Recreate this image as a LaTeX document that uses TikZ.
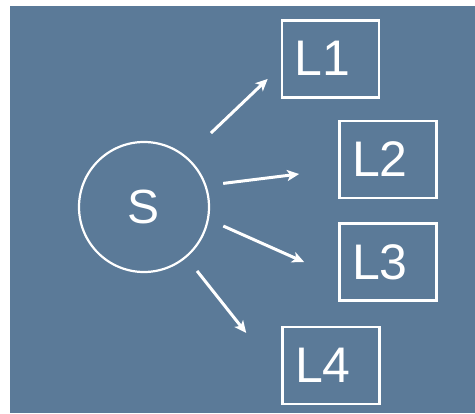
\documentclass[tikz,border=0pt]{standalone}
\usepackage{fontspec}
\setmainfont{Liberation Sans}
\usetikzlibrary{arrows.meta}
\definecolor{bgblue}{RGB}{91,122,152}
\tikzset{
  lbox/.style={draw=white, line width=2.7pt, minimum width=97pt, minimum height=77pt, inner sep=0pt, text=white, font=\fontsize{50}{60}\selectfont, execute at end node=\hspace*{16pt}},
  scirc/.style={draw=white, circle, line width=2.2pt, minimum size=130pt, inner sep=0pt, text=white, font=\fontsize{48}{58}\selectfont},
  arr/.style={draw=white, line width=3pt, -{Stealth[length=12pt,width=11pt,inset=3pt]}}
}
\begin{document}
\begin{tikzpicture}[x=1pt,y=-1pt]
\useasboundingbox (0,0) rectangle (475,414);
\fill[bgblue] (10,6) rectangle (475,413);
\node[scirc] (S) at (144,207) {S};
\node[lbox] (L1) at (330.5,58.7) {L1};
\node[lbox] (L2) at (388,159.5) {L2};
\node[lbox] (L3) at (388,262) {L3};
\node[lbox] (L4) at (331,365.5) {L4};
\draw[arr, shorten <=33.8pt, shorten >=17.9pt] (S.50) -- (L1.189);
\draw[arr, shorten <=16.8pt, shorten >=39.3pt] (S.19.5) -- (L2.191.2);
\draw[arr, shorten <=15.8pt, shorten >=37.2pt] (S.-11.9) -- (L3.197.8);
\draw[arr, shorten <=17pt, shorten >=56.2pt] (S.-50) -- (L4.193);
\end{tikzpicture}
\end{document}
